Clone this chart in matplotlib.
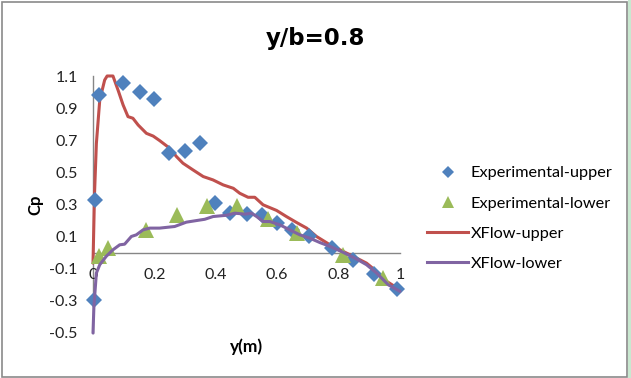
import matplotlib
matplotlib.use("Agg")
import matplotlib.pyplot as plt
from matplotlib.patches import Rectangle
from matplotlib.lines import Line2D

plt.rcParams['font.family'] = ['Lato', 'DejaVu Sans']

# Experimental upper surface
exp_up_x = [0.002, 0.005, 0.018, 0.098, 0.152, 0.198, 0.248, 0.301, 0.348, 0.397,
            0.446, 0.500, 0.549, 0.598, 0.648, 0.704, 0.777, 0.848, 0.914, 0.990]
exp_up_y = [-0.293, 0.329, 0.980, 1.058, 1.002, 0.957, 0.619, 0.634, 0.681, 0.308,
            0.246, 0.242, 0.236, 0.184, 0.142, 0.101, 0.032, -0.044, -0.132, -0.225]

# Experimental lower surface
exp_lo_x = [0.018, 0.049, 0.174, 0.272, 0.372, 0.470, 0.571, 0.663, 0.815, 0.946]
exp_lo_y = [-0.023, 0.028, 0.142, 0.236, 0.288, 0.293, 0.210, 0.121, -0.014, -0.160]

# XFlow upper surface
xf_up_x = [0.0, 0.005, 0.011, 0.022, 0.038, 0.046, 0.056, 0.065, 0.082, 0.098, 0.114,
           0.130, 0.147, 0.174, 0.196, 0.217, 0.250, 0.272, 0.293, 0.326, 0.359,
           0.391, 0.424, 0.457, 0.478, 0.505, 0.527, 0.554, 0.598, 0.630, 0.663,
           0.696, 0.728, 0.772, 0.815, 0.859, 0.891, 0.924, 0.957, 1.0]
xf_up_y = [-0.065, 0.37, 0.68, 0.95, 1.075, 1.10, 1.10, 1.10, 1.01, 0.92, 0.847,
           0.837, 0.795, 0.743, 0.726, 0.698, 0.650, 0.598, 0.557, 0.515, 0.474,
           0.453, 0.422, 0.401, 0.370, 0.345, 0.345, 0.298, 0.263, 0.225, 0.188,
           0.153, 0.101, 0.049, 0.008, -0.034, -0.065, -0.117, -0.179, -0.231]

# XFlow lower surface
xf_lo_x = [0.0, 0.003, 0.011, 0.022, 0.043, 0.065, 0.087, 0.103, 0.125, 0.141,
           0.163, 0.185, 0.217, 0.266, 0.304, 0.337, 0.364, 0.391, 0.435, 0.462,
           0.495, 0.516, 0.533, 0.554, 0.576, 0.609, 0.641, 0.674, 0.707, 0.739,
           0.772, 0.815, 0.859, 0.891, 0.924, 0.962, 1.0]
xf_lo_y = [-0.5, -0.334, -0.127, -0.075, -0.023, 0.018, 0.049, 0.053, 0.101, 0.111,
           0.142, 0.153, 0.153, 0.163, 0.190, 0.200, 0.208, 0.225, 0.233, 0.246,
           0.240, 0.246, 0.225, 0.194, 0.194, 0.173, 0.142, 0.111, 0.090, 0.063,
           0.039, 0.002, -0.040, -0.075, -0.127, -0.200, -0.241]

x_ticks = [0, 0.2, 0.4, 0.6, 0.8, 1.0]
x_tick_labels = ['0', '0.2', '0.4', '0.6', '0.8', '1']
y_ticks = [-0.5, -0.3, -0.1, 0.1, 0.3, 0.5, 0.7, 0.9, 1.1]
y_tick_labels = ['-0.5', '-0.3', '-0.1', '0.1', '0.3', '0.5', '0.7', '0.9', '1.1']

W, H = 631, 378
fig = plt.figure(figsize=(W / 100, H / 100), dpi=100)
ax = fig.add_axes([93 / W, 1 - 333 / H, 307 / W, 257 / H])
ax.set_xlim(0, 1)
ax.set_ylim(-0.5, 1.1)

grey = '#868686'
for s in ['top', 'right']:
    ax.spines[s].set_visible(False)
ax.spines['bottom'].set_position(('data', 0))
ax.spines['left'].set_position(('data', 0))
for s in ['bottom', 'left']:
    ax.spines[s].set_color(grey)
    ax.spines[s].set_linewidth(1.0)
    ax.spines[s].set_zorder(0.5)

ax.set_xticks(x_ticks)
ax.set_xticklabels(x_tick_labels)
ax.set_yticks(y_ticks)
ax.set_yticklabels(y_tick_labels)
ax.tick_params(axis='x', length=0, pad=11, labelsize=11.5, labelcolor='#222222')
ax.tick_params(axis='y', length=0, pad=11, labelsize=11.5, labelcolor='#222222')

c_up = '#4F81BD'
c_lo = '#9BBB59'
c_xu = '#C0504D'
c_xl = '#8064A2'

ax.plot(xf_up_x, xf_up_y, color=c_xu, lw=2.2, zorder=2, solid_capstyle='round',
        clip_on=False)
ax.plot(xf_lo_x, xf_lo_y, color=c_xl, lw=2.2, zorder=4, solid_capstyle='round',
        clip_on=False)
ax.plot(exp_up_x, exp_up_y, linestyle='none', marker='D', ms=8, color=c_up,
        markeredgewidth=0, zorder=3, clip_on=False)
ax.plot(exp_lo_x, exp_lo_y, linestyle='none', marker='^', ms=11, color=c_lo,
        markeredgewidth=0, zorder=3, clip_on=False)

fig.text(315 / W, 1 - 38 / H, 'y/b=0.8', ha='center', va='center',
         fontsize=16.5, fontweight='bold', family=['DejaVu Sans'])
fig.text(35 / W, 1 - 205 / H, 'Cp', ha='center', va='center', rotation=90,
         fontsize=12, fontweight='bold')
fig.text(247 / W, 1 - 347 / H, 'y(m)', ha='center', va='center',
         fontsize=12.5, fontweight='bold')

handles = [
    Line2D([], [], linestyle='none', marker='D', ms=6, color=c_up, markeredgewidth=0),
    Line2D([], [], linestyle='none', marker='^', ms=9, color=c_lo, markeredgewidth=0),
    Line2D([], [], color=c_xu, lw=2.2),
    Line2D([], [], color=c_xl, lw=2.2),
]
labels = ['Experimental-upper', 'Experimental-lower', 'XFlow-upper', 'XFlow-lower']
fig.legend(handles, labels, loc='upper left', bbox_to_anchor=(427 / W, 1 - 166 / H),
           frameon=False, fontsize=11.7, handlelength=2.55, handletextpad=0.12,
           labelspacing=0.97, borderpad=0, borderaxespad=0)

# figure border
fig.patches.append(Rectangle((628 / W, 0), 3 / W, 1, transform=fig.transFigure,
                             facecolor='#c9e8d0', edgecolor='none', zorder=-1))
fig.patches.append(Rectangle((1.5 / W, 1.5 / H), 625.5 / W, 374.5 / H,
                             transform=fig.transFigure, facecolor='none',
                             edgecolor='#8a8a8a', lw=1.2, zorder=10))

fig.savefig('out.png', dpi=100)
